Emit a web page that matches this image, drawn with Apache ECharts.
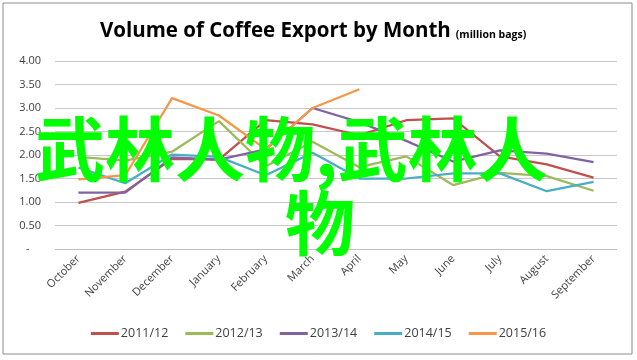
<!DOCTYPE html>
<html>
<head>
<meta charset="utf-8">
<script src="https://cdn.jsdelivr.net/npm/echarts@6/dist/echarts.min.js"></script>
<style>html,body{margin:0;padding:0;background:#fff}#c{width:637px;height:360px}</style>
</head>
<body>
<div id="c"></div>
<script>
const months = ['October','November','December','January','February','March','April','May','June','July','August','September'];
const s2011 = [0.98, 1.22, 1.92, 1.90, 2.74, 2.65, 2.42, 2.74, 2.78, 1.97, 1.80, 1.52];
const s2012 = [1.96, 1.88, 2.07, 2.72, 1.76, 2.28, 1.74, 1.97, 1.36, 1.62, 1.55, 1.24];
const s2013 = [1.20, 1.20, 1.95, 1.90, 2.12, 3.00, 2.70, 2.30, 1.86, 2.10, 2.03, 1.85];
const s2014 = [1.73, 1.40, 2.01, 1.96, 1.57, 2.05, 1.50, 1.50, 1.61, 1.61, 1.23, 1.43];
const s2015 = [1.48, 1.57, 3.21, 2.84, 2.12, 3.00, 3.40, null, null, null, null, null];
const seriesNames = ['2011/12','2012/13','2013/14','2014/15','2015/16'];
const seriesData = [s2011, s2012, s2013, s2014, s2015];
const colors = ['#C0504D','#9BBB59','#8064A2','#4BACC6','#F79646'];

const chart = echarts.init(document.getElementById('c'), null, {renderer:'canvas'});
chart.setOption({
  animation: false,
  color: colors,
  title: {
    left: 95, top: 16,
    text: '{a|Volume of Coffee Export by Month} {b|(million bags)}',
    textStyle: {
      rich: {
        a: {fontFamily: 'Open Sans', fontWeight: 'bold', fontSize: 20.5, color: '#000'},
        b: {fontFamily: 'Open Sans', fontWeight: 'bold', fontSize: 10.5, color: '#000', verticalAlign: 'bottom', padding:[0,0,1,0]}
      }
    }
  },
  grid: {left: 55, right: 20, top: 61, bottom: 111},
  legend: {
    bottom: 15, left: 'center',
    icon: 'rect', itemWidth: 28, itemHeight: 3, itemGap: 17,
    textStyle: {fontFamily: 'Open Sans', fontSize: 12.5, color: '#404040', padding:[0,0,0,-3]},
    data: seriesNames
  },
  xAxis: {
    type: 'category', data: months, boundaryGap: true,
    axisLine: {lineStyle: {color: '#bfbfbf'}},
    axisTick: {show: false},
    axisLabel: {rotate: 45, fontFamily: 'Open Sans', fontSize: 11, color: '#404040', margin: 8, interval: 0}
  },
  yAxis: {
    type: 'value', min: 0, max: 4, interval: 0.5,
    axisLine: {show: false}, axisTick: {show: false},
    splitLine: {lineStyle: {color: '#c8c8c8', width: 1}},
    axisLabel: {fontFamily: 'Open Sans', fontSize: 11, color: '#404040', margin: 14,
      formatter: v => v === 0 ? '-    ' : v.toFixed(2)}
  },
  series: seriesData.map((d, i) => ({
    name: seriesNames[i], type: 'line', data: d, showSymbol: false, symbol: 'none',
    lineStyle: {width: 2.25, color: colors[i]}, itemStyle: {color: colors[i]}
  })),
  graphic: [
    {type: 'rect', shape: {x: 3, y: 3, width: 629, height: 351}, style: {fill: 'none', stroke: '#8c8c8c', lineWidth: 1}, z: 100},
    {type: 'text', x: 35, y: 114, z: 200, style: {text: '武林人物,武林人', fill: '#00FF00', fontSize: 70, fontWeight: 'bold', fontFamily: 'Noto Sans CJK SC'}},
    {type: 'text', x: 285, y: 188, z: 200, style: {text: '物', fill: '#00FF00', fontSize: 70, fontWeight: 'bold', fontFamily: 'Noto Sans CJK SC'}}
  ]
});
</script>
</body>
</html>
